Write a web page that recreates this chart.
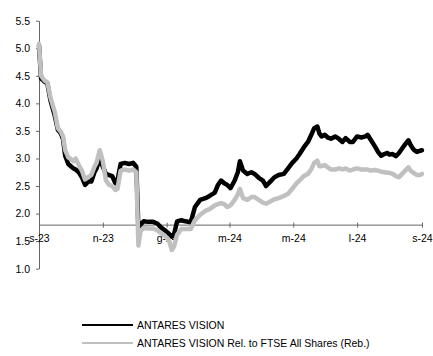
<!DOCTYPE html>
<html lang="it">
  <head>
    <meta charset="UTF-8" />
    <title>Antares Vision</title>
    <style>
      body { margin: 0; background: #fff; }
      svg { font-family: "Liberation Sans", Arial, sans-serif; }
      .line-path { fill: none; stroke-width: 4.5; stroke-linejoin: round; stroke-linecap: round; }
      .axis path, .axis line { stroke: #666; }
      .axis text { font-size: 10.5px; fill: #000; }
      .legend text { font-size: 10.5px; fill: #000; }
    </style>
  </head>
  <body>
    <script src="https://d3js.org/d3.v7.min.js"></script>
    <script>
      const seriesNames = ["ANTARES VISION", "ANTARES VISION Rel. to FTSE All Shares (Reb.)"];
      const seriesColors = ["#000000", "#c0c0c0"];

      const dates = [
        "2023-09-01", "2023-09-03", "2023-09-06", "2023-09-09", "2023-09-12", "2023-09-16",
        "2023-09-19", "2023-09-22", "2023-09-24", "2023-09-26", "2023-09-29", "2023-10-02",
        "2023-10-04", "2023-10-06", "2023-10-09", "2023-10-12", "2023-10-15", "2023-10-18",
        "2023-10-21", "2023-10-24", "2023-10-26", "2023-10-29", "2023-11-01", "2023-11-04",
        "2023-11-07", "2023-11-10", "2023-11-13", "2023-11-15", "2023-11-18", "2023-11-22",
        "2023-11-26", "2023-11-30", "2023-12-03", "2023-12-05", "2023-12-07", "2023-12-10",
        "2023-12-14", "2023-12-19", "2023-12-23", "2023-12-27", "2023-12-30", "2024-01-03",
        "2024-01-06", "2024-01-08", "2024-01-11", "2024-01-15", "2024-01-19", "2024-01-24",
        "2024-01-28", "2024-02-02", "2024-02-07", "2024-02-11", "2024-02-16", "2024-02-19",
        "2024-02-22", "2024-02-25", "2024-02-28", "2024-03-02", "2024-03-06", "2024-03-09",
        "2024-03-11", "2024-03-14", "2024-03-18", "2024-03-22", "2024-03-25", "2024-03-29",
        "2024-04-02", "2024-04-05", "2024-04-09", "2024-04-13", "2024-04-17", "2024-04-22",
        "2024-04-26", "2024-04-30", "2024-05-04", "2024-05-07", "2024-05-11", "2024-05-15",
        "2024-05-18", "2024-05-21", "2024-05-24", "2024-05-26", "2024-05-28", "2024-05-31",
        "2024-06-03", "2024-06-06", "2024-06-10", "2024-06-14", "2024-06-17", "2024-06-20",
        "2024-06-24", "2024-06-27", "2024-07-01", "2024-07-05", "2024-07-09", "2024-07-11",
        "2024-07-14", "2024-07-18", "2024-07-21", "2024-07-24", "2024-07-27", "2024-07-30",
        "2024-08-01", "2024-08-04", "2024-08-07", "2024-08-10", "2024-08-13", "2024-08-16",
        "2024-08-19", "2024-08-21", "2024-08-24", "2024-08-27", "2024-08-30", "2024-09-01"
      ];

      const antares = [
        5.05, 4.45, 4.40, 4.36, 4.05, 3.78, 3.52, 3.45, 3.35, 3.05, 2.90, 2.85,
        2.82, 2.80, 2.75, 2.66, 2.52, 2.58, 2.58, 2.75, 2.82, 3.00, 2.85, 2.72,
        2.70, 2.68, 2.55, 2.60, 2.90, 2.92, 2.90, 2.92, 2.85, 1.72, 1.80, 1.86,
        1.85, 1.85, 1.82, 1.74, 1.70, 1.64, 1.58, 1.62, 1.86, 1.88, 1.86, 1.84,
        2.12, 2.25, 2.28, 2.32, 2.38, 2.52, 2.60, 2.55, 2.52, 2.46, 2.60, 2.75,
        2.95, 2.78, 2.72, 2.75, 2.72, 2.65, 2.60, 2.50, 2.58, 2.66, 2.70, 2.72,
        2.82, 2.92, 3.00, 3.08, 3.20, 3.30, 3.42, 3.55, 3.58, 3.45, 3.40, 3.43,
        3.38, 3.36, 3.40, 3.35, 3.30, 3.37, 3.30, 3.30, 3.40, 3.38, 3.40, 3.43,
        3.34, 3.22, 3.12, 3.05, 3.08, 3.10, 3.07, 3.08, 3.04, 3.10, 3.18, 3.26,
        3.33, 3.25, 3.16, 3.12, 3.14, 3.15
      ];

      const antaresRel = [
        5.08, 4.50, 4.42, 4.38, 4.10, 3.85, 3.55, 3.48, 3.40, 3.15, 3.02, 2.98,
        2.95, 3.00, 2.88, 2.78, 2.62, 2.66, 2.70, 2.85, 2.92, 3.15, 2.95, 2.60,
        2.52, 2.50, 2.43, 2.45, 2.78, 2.80, 2.78, 2.80, 2.75, 1.42, 1.68, 1.74,
        1.73, 1.73, 1.70, 1.64, 1.60, 1.52, 1.34, 1.40, 1.62, 1.72, 1.72, 1.72,
        1.88, 1.98, 2.05, 2.08, 2.15, 2.17, 2.19, 2.17, 2.12, 2.15, 2.25, 2.35,
        2.45, 2.28, 2.25, 2.30, 2.30, 2.25, 2.20, 2.18, 2.22, 2.26, 2.28, 2.32,
        2.36, 2.45, 2.55, 2.60, 2.68, 2.72, 2.80, 2.92, 2.96, 2.86, 2.86, 2.88,
        2.84, 2.80, 2.80, 2.82, 2.80, 2.82, 2.78, 2.80, 2.82, 2.80, 2.80, 2.80,
        2.78, 2.79, 2.78, 2.76, 2.75, 2.74, 2.74, 2.72, 2.68, 2.66, 2.72, 2.78,
        2.84, 2.78, 2.74, 2.70, 2.70, 2.72
      ];

      const xTickDates = ["2023-09-01", "2023-11-01", "2024-01-01", "2024-03-01", "2024-05-01", "2024-07-01", "2024-09-01"];
      const xTickLabels = ["s-23", "n-23", "g-24", "m-24", "m-24", "l-24", "s-24"];
      const yTicks = [1.0, 1.5, 2.0, 2.5, 3.0, 3.5, 4.0, 4.5, 5.0, 5.5];

      function makeChart() {
        const width = 433;
        const height = 356;
        const margin = { top: 20.7, right: 11, bottom: 87.3, left: 39 };

        const parse = d3.utcParse("%Y-%m-%d");
        const series = [antares, antaresRel].map((vals, i) => ({
          name: seriesNames[i],
          color: seriesColors[i],
          values: vals.map((v, j) => ({ date: parse(dates[j]), value: v })),
        }));

        const svg = d3
          .select("body")
          .append("svg")
          .attr("width", width)
          .attr("height", height);

        const xScale = d3
          .scaleUtc()
          .domain([parse(dates[0]), parse(dates[dates.length - 1])])
          .range([margin.left, width - margin.right]);

        const yScale = d3
          .scaleLinear()
          .domain([1.0, 5.5])
          .range([height - margin.bottom, margin.top]);

        const yAxis = d3
          .axisLeft(yScale)
          .tickValues(yTicks)
          .tickFormat(d3.format(".1f"))
          .tickSize(3)
          .tickSizeOuter(0)
          .tickPadding(6);

        svg
          .append("g")
          .attr("class", "axis")
          .attr("transform", `translate(${margin.left}, 0)`)
          .call(yAxis);

        const xAxis = d3
          .axisBottom(xScale)
          .tickValues(xTickDates.map(parse))
          .tickFormat((d, i) => xTickLabels[i])
          .tickSize(3)
          .tickSizeOuter(0)
          .tickPadding(7);

        const xg = svg
          .append("g")
          .attr("class", "axis")
          .attr("transform", `translate(0, ${yScale(1.8)})`)
          .call(xAxis);
        xg.selectAll(".tick line").attr("y1", -2);

        const line = d3
          .line()
          .x((d) => xScale(d.date))
          .y((d) => yScale(d.value));

        svg
          .append("g")
          .selectAll("path")
          .data(series)
          .join("path")
          .attr("class", "line-path")
          .attr("d", (d) => line(d.values))
          .style("stroke", (d) => d.color);

        const legend = svg
          .append("g")
          .attr("class", "legend")
          .selectAll("g")
          .data(series)
          .join("g")
          .attr("transform", (d, i) => `translate(82, ${325 + i * 18})`);

        legend
          .append("line")
          .attr("x1", 0)
          .attr("x2", 51)
          .attr("stroke-width", 2)
          .attr("stroke", (d) => d.color);

        legend
          .append("text")
          .attr("x", 55)
          .attr("dy", "0.35em")
          .text((d) => d.name);
      }

      makeChart();
    </script>
  </body>
</html>
